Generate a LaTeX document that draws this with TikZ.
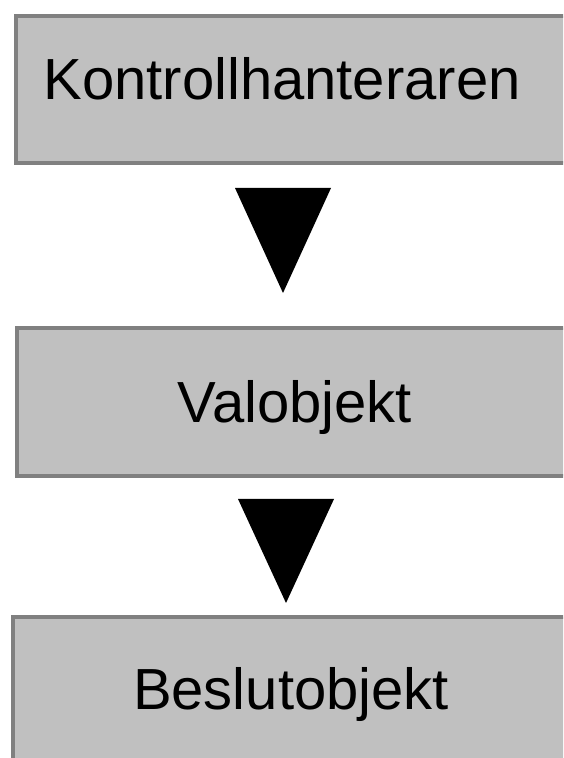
\documentclass[tikz,border=0pt]{standalone}
\usepackage{fontspec}
\setmainfont{Liberation Sans}
\definecolor{boxfill}{HTML}{C0C0C0}
\definecolor{boxline}{HTML}{808080}
\begin{document}
\begin{tikzpicture}[x=1pt,y=1pt,
  boxstyle/.style={draw=boxline,line width=4pt,fill=boxfill,inner sep=0pt},
  label/.style={anchor=base,inner sep=0pt,font=\fontsize{58}{70}\selectfont},
  arrowhead/.style={fill=black}]
\useasboundingbox (0,0) rectangle (563,758);
\clip (0,0) rectangle (563,758);
\fill[white] (0,0) rectangle (563,758);
% boxes
\node[boxstyle,minimum width=566pt,minimum height=147.5pt,anchor=north west] (box1) at (14,744) {};
\node[boxstyle,minimum width=565pt,minimum height=148pt,anchor=north west] (box2) at (15,431.5) {};
\node[boxstyle,minimum width=569pt,minimum height=160pt,anchor=north west] (box3) at (11,143) {};
% labels
\node[label] (t1) at (282,658) {Kontrollhanteraren};
\node[label] (t2) at (295,335) {Valobjekt};
\node[label] (t3) at (291,48) {Beslutobjekt};
% arrows
\coordinate (a1l) at (235,570);
\coordinate (a1r) at (331,570);
\coordinate (a1t) at (283,465);
\fill[arrowhead] (a1l) -- (a1r) -- (a1t) -- cycle;
\coordinate (a2l) at (238,259);
\coordinate (a2r) at (334,259);
\coordinate (a2t) at (286,155);
\fill[arrowhead] (a2l) -- (a2r) -- (a2t) -- cycle;
\end{tikzpicture}
\end{document}
